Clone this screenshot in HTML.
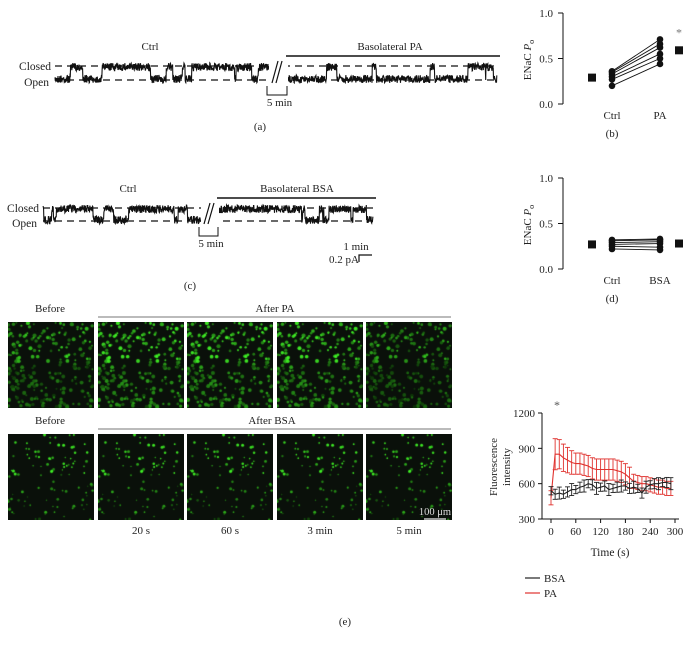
<!DOCTYPE html>
<html><head><meta charset="utf-8">
<style>
html,body{margin:0;padding:0;background:#fff;}
#wrap{position:relative;width:694px;height:647px;overflow:hidden;font-family:"Liberation Serif",serif;color:#222;}
svg{position:absolute;left:0;top:0;}
canvas{position:absolute;}
</style></head><body>
<div id="wrap">
<svg id="s" width="694" height="647" xmlns="http://www.w3.org/2000/svg" font-family="Liberation Serif, serif" font-size="11" fill="#222"></svg>
</div>
<script>
var S=document.getElementById('s'),W=document.getElementById('wrap');
var seed=7;function r(){seed=(seed*16807)%2147483647;return seed/2147483647;}
function el(t,a,txt){var e=document.createElementNS('http://www.w3.org/2000/svg',t);for(var k in a)e.setAttribute(k,a[k]);if(txt!==undefined)e.textContent=txt;S.appendChild(e);return e;}
function line(x1,y1,x2,y2,st,w,da){var a={x1:x1,y1:y1,x2:x2,y2:y2,stroke:st||'#111','stroke-width':w||1};if(da)a['stroke-dasharray']=da;return el('line',a);}
function text(x,y,t,anc,sz,extra){var a={x:x,y:y,'text-anchor':anc||'middle','font-size':sz||11};for(var k in extra)a[k]=extra[k];return el('text',a,t);}
function trace(x0,x1,yc,yo,pOpen){var d='';var st=r()<pOpen;for(var x=x0;x<=x1;x+=0.3){if(r()<0.03)st=r()<pOpen;var b=st?yo-1:yc+1;var y=b+(r()-0.5)*8;d+=(x==x0?'M':'L')+x.toFixed(1)+' '+y.toFixed(1);}el('path',{d:d,stroke:'#111','stroke-width':1.1,fill:'none'});}
function panelTrace(yc,yo,ctrlX0,gapX,postX0,postX1,lab1,lab2,lab1x,lab2x,pc,pp){
 line(ctrlX0,yc,postX1,yc,'#111',1.3,'7,5');line(ctrlX0,yo,postX1,yo,'#111',1.3,'7,5');
 trace(ctrlX0,gapX-6,yc,yo,pc);trace(postX0,postX1,yc,yo,pp);
 el('rect',{x:gapX-6,y:yc-8,width:postX0-gapX+6,height:yo-yc+14,fill:'#fff'});
 line(gapX-3,yo+3,gapX+3,yc-5,'#111',1.2);line(gapX+1,yo+3,gapX+7,yc-5,'#111',1.2);
 text(ctrlX0-4,yc+4,'Closed','end',11.5);text(ctrlX0-6,yo+6,'Open','end',11.5);
 text(lab1x,yc-16,lab1);text(lab2x,yc-16,lab2);line(postX0-2,yc-10,postX1+3,yc-10,'#111',1.5);
 el('path',{d:'M'+(gapX-8)+' '+(yo+6)+' V'+(yo+15)+' H'+(postX0-1)+' V'+(yo+6),stroke:'#111','stroke-width':1,fill:'none'});
 text((gapX+postX0)/2-2,yo+26,'5 min');
}
panelTrace(66,80,55,275,288,497,'Ctrl','Basolateral PA',150,390,0.3,0.85);
text(260,130,'(a)');
panelTrace(208,221,43,207,219,373,'Ctrl','Basolateral BSA',128,297,0.25,0.25);
text(356,250,'1 min','middle',11);text(344,263,'0.2 pA','middle',11);
el('path',{d:'M359 262 V255 H372',stroke:'#111','stroke-width':1.2,fill:'none'});
text(190,289,'(c)');
function po(top,grp,ctrl,trt,mc,mt,star,lab){
 var y0=top+91,ys=function(v){return y0-v*91;};
 line(563,top,563,y0);[0,0.5,1].forEach(function(v){line(558,ys(v),563,ys(v));text(553,ys(v)+4,v.toFixed(1),'end',11);});
 var t=el('text',{transform:'translate(531 '+(top+47)+') rotate(-90)','text-anchor':'middle','font-size':11},'ENaC ');
 var ts=document.createElementNS('http://www.w3.org/2000/svg','tspan');ts.textContent='P';ts.setAttribute('font-style','italic');t.appendChild(ts);
 var ts2=document.createElementNS('http://www.w3.org/2000/svg','tspan');ts2.textContent='o';ts2.setAttribute('font-size','8');ts2.setAttribute('dy','3');t.appendChild(ts2);
 for(var i=0;i<ctrl.length;i++){line(612,ys(ctrl[i]),660,ys(trt[i]),'#111',0.9);}
 ctrl.forEach(function(v){el('circle',{cx:612,cy:ys(v),r:3.3,fill:'#111'});});
 trt.forEach(function(v){el('circle',{cx:660,cy:ys(v),r:3.3,fill:'#111'});});
 el('rect',{x:588,y:ys(mc)-4,width:8,height:8,fill:'#111'});el('rect',{x:675,y:ys(mt)-4,width:8,height:8,fill:'#111'});
 if(star)text(679,ys(mt)-14,'*','middle',12,{fill:'#777'});
 text(612,y0+15,'Ctrl');text(660,y0+15,grp);text(612,y0+33,lab);
}
po(13,'PA',[0.2,0.27,0.3,0.33,0.35,0.36],[0.44,0.5,0.55,0.62,0.66,0.71],0.29,0.59,true,'(b)');
po(178,'BSA',[0.22,0.25,0.27,0.29,0.31,0.32],[0.21,0.24,0.28,0.3,0.32,0.33],0.27,0.28,false,'(d)');
text(50,312,'Before');text(275,312,'After PA');line(98,317,451,317,'#777',1);
text(50,424,'Before');text(272,424,'After BSA');line(98,429,451,429,'#777',1);
var xs=[8,98,187,277,366];
function micro(x,y,n,br,sz){var c=document.createElement('canvas');c.width=86;c.height=86;c.style.left=x+'px';c.style.top=y+'px';W.insertBefore(c,S);var g=c.getContext('2d');g.fillStyle='#0a100a';g.fillRect(0,0,86,86);
 for(var i=0;i<n;i++){var px=r()*86,py=r()*86;var f=br*(py<40?1:0.6)*(0.4+r()*0.6);f=Math.min(f,1.1);g.fillStyle='rgba('+Math.round(60*f)+','+Math.round(230*f)+','+Math.round(35*f)+',0.9)';g.beginPath();g.arc(px,py,sz*(0.6+r()*0.8),0,6.3);g.fill();}}
xs.forEach(function(x,i){seed=100;micro(x,322,240,i==0?1.0:(i==4?0.9:1.3),1.5);});
xs.forEach(function(x){seed=500;micro(x,434,100,1.4,1.1);});
text(435,515,'100 μm','middle',10.5,{fill:'#ddd'});line(424,519,446,519,'#eee',1.3);
['20 s','60 s','3 min','5 min'].forEach(function(t,i){text(xs[i+1]+43,534,t);});
var X=function(t){return 551+t*124/300;},Y=function(v){return 519-(v-300)*106/900;};
line(542,413,542,519);line(542,519,679,519);
[300,600,900,1200].forEach(function(v){line(538,Y(v),542,Y(v));text(535,Y(v)+4,v,'end',11);});
[0,60,120,180,240,300].forEach(function(t){line(X(t),519,X(t),523);text(X(t),535,t,'middle',11);});
text(610,556,'Time (s)','middle',11.5);
el('text',{transform:'translate(497 467) rotate(-90)','text-anchor':'middle','font-size':11},'Fluorescence');
el('text',{transform:'translate(510 467) rotate(-90)','text-anchor':'middle','font-size':11},'intensity');
var pa=[480,850,850,820,800,780,770,770,760,750,730,720,720,720,720,720,710,700,680,650,620,610,600,600,590,580,570,570,560,560];
var bs=[540,510,520,510,530,550,550,570,580,600,590,560,570,580,550,560,570,580,580,560,570,560,520,570,590,600,600,610,610,600];
function series(d,col,ef){var p='';d.forEach(function(v,i){var t=i*10;var e=ef(i);p+=(i?'L':'M')+X(t).toFixed(1)+' '+Y(v).toFixed(1);
 line(X(t),Y(v-e),X(t),Y(v+e),col,0.9);line(X(t)-2.5,Y(v+e),X(t)+2.5,Y(v+e),col,0.9);line(X(t)-2.5,Y(v-e),X(t)+2.5,Y(v-e),col,0.9);});
 el('path',{d:p,stroke:col,'stroke-width':1.1,fill:'none'});}
series(pa,'#e0322e',function(i){return i==0?60:(i<6?140-i*8:(i<20?90:60));});
series(bs,'#222',function(i){return 35+(i%3)*8;});
text(557,409,'*','middle',12,{fill:'#555'});
line(525,578,540,578,'#222',1.2);text(544,582,'BSA','start',11);
line(525,593,540,593,'#e0322e',1.2);text(544,597,'PA','start',11);
text(345,625,'(e)');
</script>
</body></html>
